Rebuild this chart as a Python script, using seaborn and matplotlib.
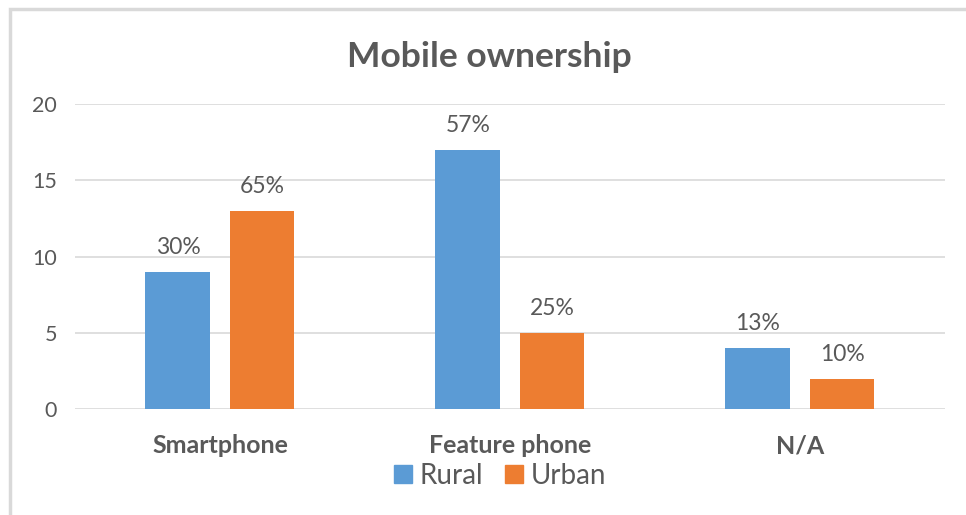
import matplotlib
matplotlib.use("Agg")
import matplotlib.pyplot as plt
import seaborn as sns
import pandas as pd
from matplotlib.patches import Rectangle
from matplotlib.lines import Line2D

# Survey counts by phone type and area
categories = ["Smartphone", "Feature phone", "N/A"]
series = ["Rural", "Urban"]
rural = [9, 17, 4]
urban = [13, 5, 2]
yticks = [0, 5, 10, 15, 20]

colors = {"Rural": "#5B9BD5", "Urban": "#ED7D31"}
text_color = "#595959"
grid_color = "#D9D9D9"

sns.set_theme(style="white")
plt.rcParams["font.family"] = ["Lato", "DejaVu Sans"]

df = pd.DataFrame({
    "type": categories * 2,
    "area": ["Rural"] * 3 + ["Urban"] * 3,
    "count": rural + urban,
})

fig = plt.figure(figsize=(9.66, 5.15), dpi=100)
ax = fig.add_axes([0.0776, 0.2058, 0.9006, 0.5922])

sns.barplot(data=df, x="type", y="count", hue="area", order=categories,
            hue_order=series, palette=colors, width=0.58, gap=0.228,
            saturation=1, ax=ax, legend=False, zorder=3, linewidth=0)

ax.set_ylim(0, 20)
ax.set_xlim(-0.5, 2.5)
ax.set_yticks(yticks)
ax.yaxis.grid(True, color=grid_color, linewidth=1.2, zorder=0)
ax.set_axisbelow(True)
for s in ax.spines.values():
    s.set_visible(False)
ax.set_xlabel("")
ax.set_ylabel("")
ax.tick_params(axis="y", length=0, pad=13, labelsize=15.5, labelcolor=text_color)
ax.tick_params(axis="x", length=0, pad=18, labelsize=18, labelcolor=text_color)
for lab in ax.get_xticklabels():
    lab.set_fontweight("bold")

# Share of each area's total shown above its bars
totals = {"Rural": sum(rural), "Urban": sum(urban)}
for container, name in zip(ax.containers, series):
    labels = [f"{round(100 * b.get_height() / totals[name])}%" for b in container]
    ax.bar_label(container, labels=labels, padding=10, fontsize=16.5,
                 color=text_color)

fig.text(0.507, 0.889, "Mobile ownership", ha="center", va="center",
         fontsize=25.5, fontweight="bold", color=text_color)

handles = [Line2D([0], [0], marker="s", linestyle="none", markersize=13,
                  markerfacecolor=colors[s], markeredgecolor=colors[s])
           for s in series]
fig.legend(handles, series, loc="center", bbox_to_anchor=(0.5135, 0.076),
           ncol=2, frameon=False, fontsize=20, handletextpad=0.0,
           columnspacing=0.5, handlelength=1.2, labelcolor=text_color)

# Outer chart frame
fig.add_artist(Rectangle((10 / 966, -0.05), 1.2, 1.05 - 9 / 515,
                         transform=fig.transFigure, fill=False,
                         edgecolor="#D9D9D9", linewidth=2.5))

fig.savefig("out.png", dpi=100)
